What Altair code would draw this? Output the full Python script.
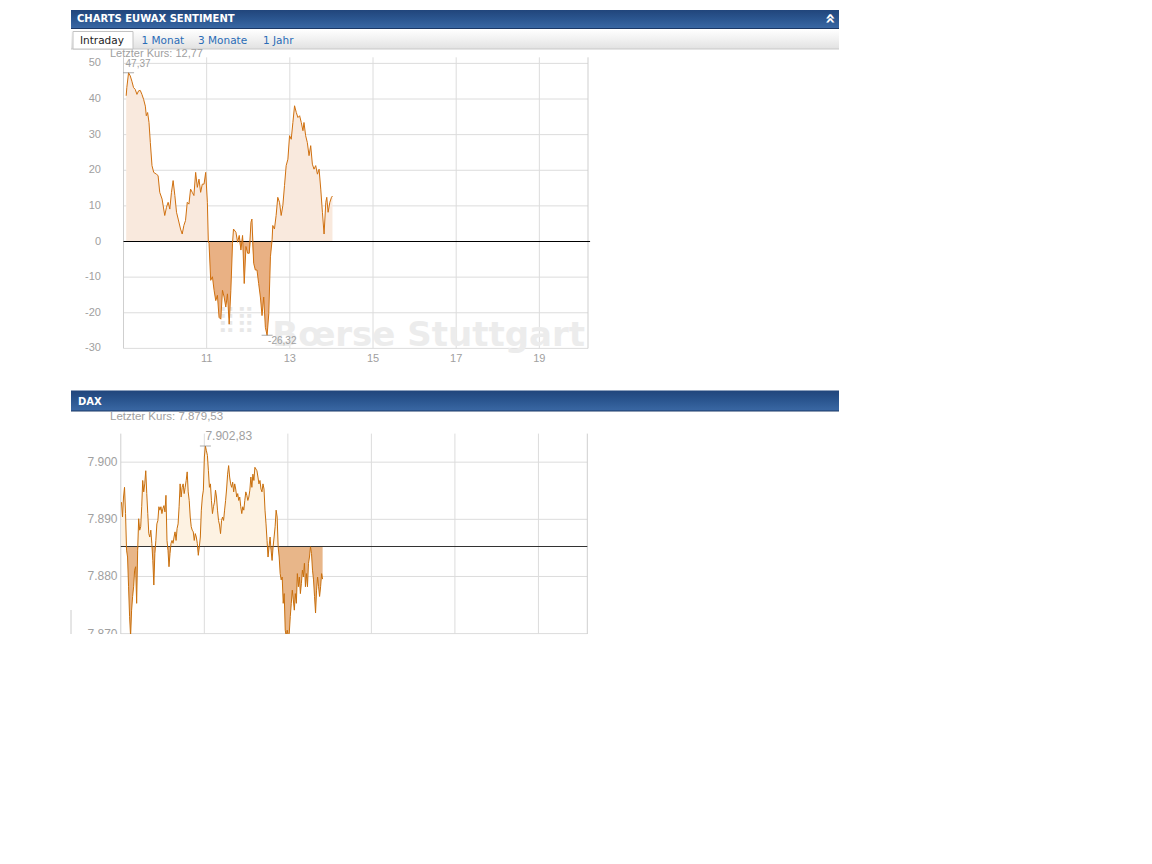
import altair as alt
import pandas as pd

# ---------------- data ----------------
# EUWAX sentiment, intraday (minutes after 09:00, value)
EUWAX_MIN = [3.9, 4.8, 7.3, 9.7, 12.1, 14.5, 16.9, 19.4, 21.8, 24.2,
             26.6, 29.0, 31.5, 32.9, 34.8, 36.8, 38.7, 41.1, 43.6, 47.4,
             49.9, 52.3, 55.7, 59.5, 62.0, 64.4, 66.8, 69.2, 71.6, 74.1,
             76.5, 78.9, 82.3, 84.7, 87.1, 89.5, 92.0, 94.4, 96.8, 99.2,
             101.6, 104.1, 106.5, 108.9, 111.3, 113.7, 116.2, 118.6, 121.0, 122.4,
             123.4, 125.8, 128.3, 130.7, 133.1, 135.5, 137.9, 140.4, 142.8, 145.2,
             147.6, 150.0, 152.5, 154.9, 157.3, 158.7, 162.2, 164.6, 167.0, 169.4,
             171.8, 174.2, 176.7, 179.1, 181.5, 183.9, 185.3, 187.8, 190.2, 192.6,
             195.0, 197.5, 199.9, 202.3, 204.7, 207.2, 209.6, 212.0, 214.4, 215.4,
             217.8, 220.2, 222.6, 225.1, 227.5, 229.9, 232.3, 234.7, 237.2, 239.6,
             242.0, 244.4, 246.8, 249.3, 251.7, 254.1, 256.5, 258.9, 260.4, 262.8,
             265.2, 267.7, 270.1, 272.5, 274.9, 277.3, 279.8, 282.2, 284.6, 287.0,
             289.4, 291.9, 293.3, 295.2, 297.7, 300.1, 301.5]
EUWAX_VAL = [40.9, 43.2, 47.37, 46.5, 45.0, 43.2, 42.7, 41.3, 42.3, 42.4,
             41.3, 39.9, 38.0, 35.3, 36.2, 33.4, 27.8, 21.3, 19.4, 18.9,
             18.5, 13.8, 11.9, 7.3, 9.6, 11.0, 9.1, 13.8, 17.1, 12.9,
             8.2, 6.3, 3.5, 2.1, 4.5, 5.9, 11.0, 10.5, 14.7, 13.8,
             12.9, 19.4, 15.2, 17.5, 13.8, 16.1, 16.1, 19.4, 11.0, -0.2,
             -0.5, -10.9, -9.9, -13.7, -16.6, -15.1, -21.3, -21.8, -13.7, -15.6,
             -18.4, -14.7, -23.2, -13.7, -0.5, 3.5, 2.6, -0.2, 1.7, -2.4,
             1.7, -11.8, -1.4, -3.3, -3.3, 5.4, 6.3, -6.1, -8.0, -8.0,
             -11.8, -15.6, -20.8, -15.6, -24.1, -26.32, -20.3, -4.3, 0.5, 4.5,
             3.5, 7.3, 12.4, 11.0, 7.3, 10.1, 15.7, 21.3, 23.1, 29.7,
             28.7, 33.4, 38.1, 36.2, 34.8, 35.3, 33.4, 31.1, 33.4, 29.7,
             27.8, 24.1, 26.9, 21.7, 20.3, 21.3, 18.9, 20.3, 14.7, 8.2,
             2.1, 11.0, 12.4, 8.2, 11.0, 12.4, 12.77]

# DAX intraday, sampled on a regular time grid
DAX_START_MIN = 1.0
DAX_STEP_MIN = 1.452
DAX_VAL = [7893.0, 7890.4, 7893.9, 7895.6, 7891.0, 7884.6, 7883.4, 7878.2, 7873.0, 7869.5,
           7874.1, 7876.5, 7878.2, 7881.1, 7881.7, 7875.3, 7884.6, 7890.1,
           7888.1, 7888.7, 7892.2, 7896.8, 7894.8, 7896.2, 7898.5, 7894.5, 7891.0, 7887.5,
           7886.9, 7888.1, 7885.8, 7882.8, 7878.5, 7884.0, 7886.3, 7889.2, 7889.8, 7892.2,
           7891.6, 7892.2, 7891.0, 7891.9, 7892.4, 7891.3, 7894.2, 7886.3, 7884.6, 7881.7,
           7884.0, 7885.8, 7886.3, 7885.8, 7886.9, 7887.8, 7886.3, 7888.4, 7889.2, 7892.2,
           7896.2, 7893.9, 7895.6, 7896.2, 7894.5, 7895.6, 7896.8, 7898.3, 7894.8, 7893.3,
           7890.4, 7888.7, 7888.1, 7887.8, 7886.3, 7887.5, 7886.9, 7885.8, 7883.7, 7885.2,
           7886.9, 7891.6, 7893.9, 7895.1, 7900.9, 7902.83, 7902.0, 7901.2, 7898.5, 7895.6,
           7896.2, 7893.3, 7891.0, 7892.2, 7893.0, 7895.1, 7893.9, 7891.6, 7889.8, 7889.0,
           7887.5, 7889.8, 7890.4, 7889.8, 7891.6, 7893.3, 7895.3, 7897.9, 7899.4, 7897.4,
           7896.2, 7895.6, 7896.5, 7894.8, 7896.2, 7895.3, 7893.9, 7894.5, 7893.3, 7893.9,
           7892.2, 7891.0, 7892.2, 7891.6, 7893.3, 7894.8, 7894.2, 7893.3, 7893.9, 7895.1,
           7897.4, 7895.6, 7897.9, 7896.8, 7899.1, 7898.8, 7898.5, 7897.4, 7896.2, 7896.8,
           7895.3, 7894.8, 7896.2, 7895.3, 7891.6, 7889.2, 7886.3, 7883.4, 7885.2, 7886.9,
           7884.6, 7882.8, 7885.2, 7886.9, 7888.7, 7891.6, 7890.4, 7885.2, 7883.4, 7880.5,
           7879.4, 7879.9, 7875.3, 7877.0, 7870.6, 7869.5, 7870.6, 7869.5, 7870.1, 7873.0,
           7875.3, 7877.6, 7875.9, 7874.1, 7877.0, 7875.3, 7880.5, 7878.2, 7879.9, 7877.0,
           7878.8, 7881.1, 7879.9, 7882.3, 7878.2, 7880.5, 7878.2, 7882.3, 7883.4, 7885.2,
           7884.0, 7881.1, 7879.4, 7876.5, 7873.6, 7877.6, 7879.9, 7878.2, 7876.5, 7878.2,
           7880.5, 7879.53]
DAX_REF = 7885.24

EU_YTICKS = [50, 40, 30, 20, 10, 0, -10, -20, -30]
EU_YLABELS = ["50", "40", "30", "20", "10", "0", "-10", "-20", "-30"]
DAX_YTICKS = [7900, 7890, 7880, 7870]
DAX_YLABELS = ["7.900", "7.890", "7.880", "7.870"]
X_TICKS = [11, 13, 15, 17, 19]
X_LABELS = ["11", "13", "15", "17", "19"]
TABS = ["1 Monat", "3 Monate", "1 Jahr"]


def de(v):
    s = f"{v:,.2f}"
    return s.replace(",", "X").replace(".", ",").replace("X", ".")


eu = pd.DataFrame({"t": [9 + m / 60 for m in EUWAX_MIN], "v": EUWAX_VAL})
dax = pd.DataFrame({"t": [9 + (DAX_START_MIN + DAX_STEP_MIN * i) / 60 for i in range(len(DAX_VAL))],
                    "v": DAX_VAL})

eu_max = eu.loc[[eu.v.idxmax()]].assign(lbl=lambda d: d.v.map(de))
eu_min = eu.loc[[eu.v.idxmin()]].assign(lbl=lambda d: d.v.map(de))
dax_max = dax.loc[[dax.v.idxmax()]].assign(lbl=lambda d: d.v.map(de))

# ---------------- styling ----------------
LAB = "Liberation Sans"
UI = "DejaVu Sans"
GRID = "#dcdcdc"
BORDER = "#cfcfcf"
LBL = "#a0a0a0"
LINE1 = "#d0700f"
LIGHT1 = "#f9e9dd"
DARK1 = "#e9b184"
LINE2 = "#c96f0c"
LIGHT2 = "#fdf2e2"
DARK2 = "#e8b689"

T_END = 20.17
SX1 = alt.Scale(domain=[9, T_END], range=[115.5, 580], nice=False, zero=False)
SY1 = alt.Scale(domain=[-30, 50], range=[340.375, 55.375], nice=False, zero=False)
SX2 = alt.Scale(domain=[9, T_END], range=[112.8, 579.3], nice=False, zero=False)
SY2 = alt.Scale(domain=[7870, 7905], range=[625.6, 425.6], nice=False, zero=False)


def xf(f, s):
    return alt.X(f"{f}:Q", scale=s, axis=None)


def yf(f, s):
    return alt.Y(f"{f}:Q", scale=s, axis=None)


def xd(d, s):
    return alt.XDatum(datum=d, scale=s, axis=None)


def yd(d, s):
    return alt.YDatum(datum=d, scale=s, axis=None)


# ---------------- EUWAX panel ----------------
eu_hgrid = alt.Chart(pd.DataFrame({"v": EU_YTICKS})).mark_rule(color=GRID, strokeWidth=1).encode(
    y=yf("v", SY1), x=xd(9, SX1), x2=alt.X2Datum(datum=T_END))
eu_vgrid = alt.Chart(pd.DataFrame({"t": X_TICKS})).mark_rule(color=GRID, strokeWidth=1).encode(
    x=xf("t", SX1), y=yd(-30, SY1), y2=alt.Y2Datum(datum=51.7))
eu_border = alt.Chart(pd.DataFrame({"t": [9, T_END]})).mark_rule(color=BORDER, strokeWidth=1).encode(
    x=xf("t", SX1), y=yd(-30, SY1), y2=alt.Y2Datum(datum=51.7))
eu_ylab = alt.Chart(pd.DataFrame({"v": EU_YTICKS, "lbl": EU_YLABELS})).mark_text(
    align="right", baseline="middle", font=LAB, fontSize=11, color=LBL).encode(
    y=yf("v", SY1), x=alt.value(93), text="lbl:N")
eu_xlab = alt.Chart(pd.DataFrame({"t": X_TICKS, "lbl": X_LABELS})).mark_text(
    align="center", baseline="middle", font=LAB, fontSize=11, color=LBL, dy=11).encode(
    x=xf("t", SX1), y=yd(-30, SY1), text="lbl:N")
watermark = alt.Chart(pd.DataFrame({"k": [0]})).mark_text(
    text="Bœrse Stuttgart", font=UI, fontWeight="bold", fontSize=34, color="#ececec",
    align="right", baseline="alphabetic").encode(x=alt.value(577), y=alt.value(338))
wm_dots = alt.Chart(pd.DataFrame({"k": [0]})).mark_text(
    text="⣿⣿", font=UI, fontSize=26, color="#e8e8e8", align="center", baseline="middle").encode(
    x=alt.value(228), y=alt.value(311))

eu_base = alt.Chart(eu)
eu_pos = eu_base.transform_calculate(p="max(datum.v, 0)").mark_area(color=LIGHT1).encode(
    x=xf("t", SX1), y=yf("p", SY1), y2=alt.Y2Datum(datum=0))
eu_neg = eu_base.transform_calculate(n="min(datum.v, 0)").mark_area(color=DARK1).encode(
    x=xf("t", SX1), y=yf("n", SY1), y2=alt.Y2Datum(datum=0))
eu_zero = alt.Chart(pd.DataFrame({"v": [0]})).mark_rule(color="#000000", strokeWidth=1).encode(
    y=yf("v", SY1), x=xd(9, SX1), x2=alt.X2Datum(datum=20.22))
eu_line = eu_base.mark_line(color=LINE1, strokeWidth=1).encode(x=xf("t", SX1), y=yf("v", SY1))

eu_mx_tick = alt.Chart(eu_max).mark_tick(orient="horizontal", size=11, thickness=1, color="#888").encode(
    x=xf("t", SX1), y=yf("v", SY1))
eu_mx_lbl = alt.Chart(eu_max).mark_text(align="left", baseline="middle", font=LAB, fontSize=10,
                                        color=LBL, dx=-3, dy=-9).encode(
    x=xf("t", SX1), y=yf("v", SY1), text="lbl:N")
eu_mn_tick = alt.Chart(eu_min).mark_tick(orient="horizontal", size=11, thickness=1, color="#888").encode(
    x=xf("t", SX1), y=yf("v", SY1))
eu_mn_lbl = alt.Chart(eu_min).mark_text(align="left", baseline="middle", font=LAB, fontSize=10,
                                        color=LBL, dx=1, dy=6).encode(
    x=xf("t", SX1), y=yf("v", SY1), text="lbl:N")

eu_layer = alt.layer(eu_hgrid, eu_vgrid, eu_border, wm_dots, watermark, eu_pos, eu_neg, eu_zero,
                     eu_line, eu_ylab, eu_xlab, eu_mx_tick, eu_mx_lbl, eu_mn_tick, eu_mn_lbl)

# ---------------- DAX panel ----------------
dx_hgrid = alt.Chart(pd.DataFrame({"v": DAX_YTICKS})).mark_rule(color=GRID, strokeWidth=1).encode(
    y=yf("v", SY2), x=xd(9, SX2), x2=alt.X2Datum(datum=T_END))
dx_vgrid = alt.Chart(pd.DataFrame({"t": X_TICKS})).mark_rule(color=GRID, strokeWidth=1, clip=True).encode(
    x=xf("t", SX2), y=yd(7860, SY2), y2=alt.Y2Datum(datum=7905))
dx_border = alt.Chart(pd.DataFrame({"t": [9, T_END]})).mark_rule(color=BORDER, strokeWidth=1, clip=True).encode(
    x=xf("t", SX2), y=yd(7860, SY2), y2=alt.Y2Datum(datum=7905))
dx_ylab = alt.Chart(pd.DataFrame({"v": DAX_YTICKS, "lbl": DAX_YLABELS})).mark_text(
    align="right", baseline="middle", font=LAB, fontSize=12, color=LBL, clip=True).encode(
    y=yf("v", SY2), x=alt.value(109.5), text="lbl:N")

dx_base = alt.Chart(dax)
dx_pos = dx_base.transform_calculate(p=f"max(datum.v, {DAX_REF})").mark_area(color=LIGHT2, clip=True).encode(
    x=xf("t", SX2), y=yf("p", SY2), y2=alt.Y2Datum(datum=DAX_REF))
dx_neg = dx_base.transform_calculate(n=f"min(datum.v, {DAX_REF})").mark_area(color=DARK2, clip=True).encode(
    x=xf("t", SX2), y=yf("n", SY2), y2=alt.Y2Datum(datum=DAX_REF))
dx_ref = alt.Chart(pd.DataFrame({"v": [DAX_REF]})).mark_rule(color="#333333", strokeWidth=1).encode(
    y=yf("v", SY2), x=xd(9, SX2), x2=alt.X2Datum(datum=T_END))
dx_line = dx_base.mark_line(color=LINE2, strokeWidth=1, clip=True).encode(x=xf("t", SX2), y=yf("v", SY2))
dx_mx_tick = alt.Chart(dax_max).mark_tick(orient="horizontal", size=11, thickness=1, color="#888").encode(
    x=xf("t", SX2), y=yf("v", SY2))
dx_mx_lbl = alt.Chart(dax_max).mark_text(align="left", baseline="middle", font=LAB, fontSize=12,
                                         color=LBL, dx=0, dy=-10).encode(
    x=xf("t", SX2), y=yf("v", SY2), text="lbl:N")

dax_layer = alt.layer(dx_hgrid, dx_vgrid, dx_border, dx_pos, dx_neg, dx_ref, dx_line,
                      dx_ylab, dx_mx_tick, dx_mx_lbl)

# ---------------- page decoration (header bars, tabs) ----------------
ONE = pd.DataFrame({"k": [0]})
HEAD = alt.LinearGradient(gradient="linear", x1=0, x2=0, y1=0, y2=1, stops=[
    alt.GradientStop(color="#21457b", offset=0),
    alt.GradientStop(color="#2b5690", offset=0.5),
    alt.GradientStop(color="#3a68a4", offset=1)])
TABBAR = alt.LinearGradient(gradient="linear", x1=0, x2=0, y1=0, y2=1, stops=[
    alt.GradientStop(color="#ffffff", offset=0),
    alt.GradientStop(color="#f1f1f1", offset=0.5),
    alt.GradientStop(color="#e1e1e1", offset=1)])


def rect(x, x2, y, y2, **kw):
    return alt.Chart(ONE).mark_rect(**kw).encode(
        x=alt.value(x), x2=alt.value(x2), y=alt.value(y), y2=alt.value(y2))


def hline(x, x2, y, color):
    return alt.Chart(ONE).mark_rule(color=color, strokeWidth=1).encode(
        x=alt.value(x), x2=alt.value(x2), y=alt.value(y))


def txt(s, x, y, **kw):
    return alt.Chart(ONE).mark_text(text=s, baseline="middle", **kw).encode(x=alt.value(x), y=alt.value(y))


decor = [
    rect(63, 831, 2, 20.5, color=HEAD),
    hline(63, 831, 20.5, "#1b3866"),
    txt("CHARTS EUWAX SENTIMENT", 69, 11, align="left", font=UI, fontWeight="bold", fontSize=10, color="white"),
    txt("«", 822, 10.5, align="center", font=UI, fontWeight="bold", fontSize=17, color="white", angle=90),
    rect(63, 831, 21.5, 41, color=TABBAR),
    hline(63, 831, 41, "#c9c9c9"),
    rect(65, 125, 23.5, 41, fill="white", stroke="#c2c2c2", strokeWidth=1),
    txt("Intraday", 72, 32.5, align="left", font=UI, fontSize=10.5, color="#222222"),
    txt(TABS[0], 133.5, 32.5, align="left", font=UI, fontSize=10.5, color="#2a6cb6"),
    txt(TABS[1], 190, 32.5, align="left", font=UI, fontSize=10.5, color="#2a6cb6"),
    txt(TABS[2], 255, 32.5, align="left", font=UI, fontSize=10.5, color="#2a6cb6"),
    txt("Letzter Kurs: " + de(EUWAX_VAL[-1]), 102, 45.5, align="left", font=LAB, fontSize=11, color="#a0a0a0"),
    rect(63, 831, 382.5, 403, color=HEAD),
    hline(63, 831, 403, "#1b3866"),
    txt("DAX", 70, 393.5, align="left", font=UI, fontWeight="bold", fontSize=10, color="white"),
    txt("Letzter Kurs: " + de(DAX_VAL[-1]), 102, 408.5, align="left", font=LAB, fontSize=11.5, color="#a0a0a0"),
    alt.Chart(ONE).mark_rule(color="#cccccc", strokeWidth=1).encode(
        x=alt.value(63), y=alt.value(602), y2=alt.value(626)),
]
decor_layer = alt.layer(*decor)

chart = alt.layer(eu_layer, dax_layer, decor_layer).resolve_scale(
    x="independent", y="independent").properties(
    width=840, height=626, padding=0, background="white").configure_view(stroke=None)

chart.save("out.html", embed_options={"renderer": "svg", "actions": False})
